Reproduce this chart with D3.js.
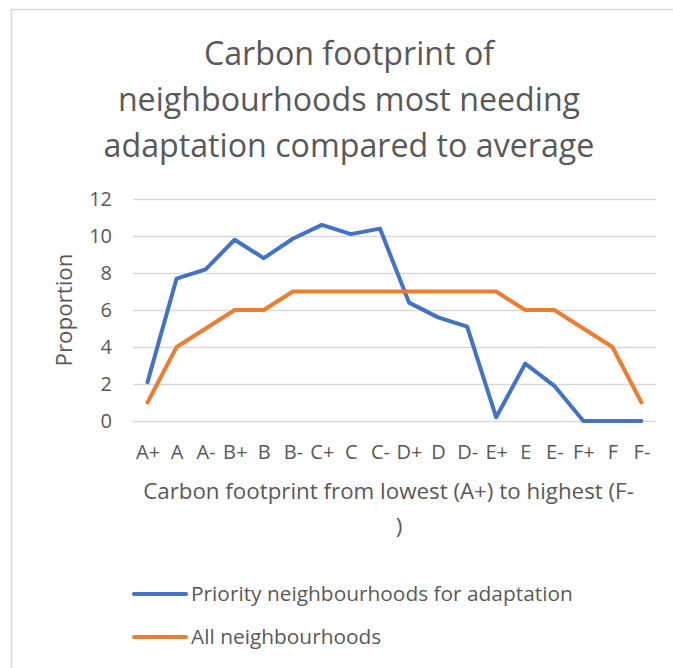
<!DOCTYPE html>
<html>
<head>
<meta charset="utf-8">
<title>Carbon footprint chart</title>
<script src="https://d3js.org/d3.v7.min.js"></script>
<style>
  body { margin: 0; background: #fff; }
  svg text { font-family: "Open Sans", "Noto Sans", sans-serif; fill: #595959; }
</style>
</head>
<body>
<div id="chart"></div>
<script>
const categories = ["A+", "A", "A-", "B+", "B", "B-", "C+", "C", "C-", "D+", "D", "D-", "E+", "E", "E-", "F+", "F", "F-"];
const priority = [2.1, 7.7, 8.2, 9.8, 8.8, 9.85, 10.6, 10.1, 10.4, 6.4, 5.6, 5.1, 0.2, 3.1, 1.9, 0, 0, 0];
const allNeighbourhoods = [1, 4, 5, 6, 6, 7, 7, 7, 7, 7, 7, 7, 7, 6, 6, 5, 4, 1];
const yTicks = [0, 2, 4, 6, 8, 10, 12];
const titleLines = ["Carbon footprint of", "neighbourhoods most needing", "adaptation compared to average"];
const seriesNames = ["Priority neighbourhoods for adaptation", "All neighbourhoods"];
const colors = ["#4472C4", "#ED7D31"];

const W = 673, H = 668;
const plot = { left: 133, right: 656, top: 199, bottom: 421 };

// scale a text's font size so it spans the wanted width
function fitWidth(sel, width) {
  const node = sel.node();
  const size = parseFloat(sel.style("font-size"));
  const len = node.getComputedTextLength();
  sel.style("font-size", (size * width / len).toFixed(2) + "px");
  return (size * width / len);
}

const svg = d3.select("#chart").append("svg")
  .attr("width", W).attr("height", H);

// chart area border (only top and left visible)
svg.append("rect")
  .attr("x", 11.5).attr("y", 9.5)
  .attr("width", W + 20).attr("height", H + 20)
  .attr("fill", "none").attr("stroke", "#d9d9d9").attr("stroke-width", 1.5);

// title
const title = svg.append("text")
  .attr("text-anchor", "middle")
  .style("font-size", "30px");
title.selectAll("tspan")
  .data(titleLines)
  .join("tspan")
  .attr("x", 349)
  .attr("y", (d, i) => [65, 111, 157][i])
  .text(d => d);
fitWidth(title.selectAll("tspan").filter((d, i) => i === 2), 491);
title.style("font-size", title.select("tspan:nth-child(3)").style("font-size"));
title.selectAll("tspan").style("font-size", null);

const x = d3.scalePoint().domain(categories)
  .range([plot.left, plot.right]).padding(0.5);
const y = d3.scaleLinear().domain([0, 12])
  .range([plot.bottom, plot.top]);

// gridlines + y labels
const yAxis = svg.append("g")
  .attr("transform", "translate(" + plot.left + ",0)")
  .call(d3.axisLeft(y).tickValues(yTicks)
    .tickSize(-(plot.right - plot.left)).tickPadding(21));
yAxis.select(".domain").remove();
yAxis.selectAll(".tick line").attr("stroke", "#d9d9d9").attr("stroke-width", 1.5);
yAxis.selectAll(".tick text").style("font-size", "20px").attr("fill", "#595959");

// x labels
const xAxis = svg.append("g")
  .attr("transform", "translate(0," + plot.bottom + ")")
  .call(d3.axisBottom(x).tickSize(0).tickPadding(24));
xAxis.select(".domain").remove();
xAxis.selectAll(".tick text").style("font-size", "20px").attr("fill", "#595959");

// axis titles
const yTitle = svg.append("text")
  .attr("transform", "translate(72,310) rotate(-90)")
  .attr("text-anchor", "middle")
  .style("font-size", "20px")
  .text("Proportion");
fitWidth(yTitle, 113);

const xTitle = svg.append("text")
  .attr("text-anchor", "middle")
  .style("font-size", "20px");
const xTitle1 = xTitle.append("tspan").attr("x", 388.5).attr("y", 499)
  .text("Carbon footprint from lowest (A+) to highest (F-");
xTitle.append("tspan").attr("x", 399).attr("y", 534).text(")");
const xs = fitWidth(xTitle1, 491);
xTitle.style("font-size", xs + "px");
xTitle1.style("font-size", null);

// lines
const line = d3.line()
  .x((d, i) => x(categories[i]))
  .y(d => y(d));

[priority, allNeighbourhoods].forEach((series, i) => {
  svg.append("path")
    .datum(series)
    .attr("d", line)
    .attr("fill", "none")
    .attr("stroke", colors[i])
    .attr("stroke-width", 4)
    .attr("stroke-linejoin", "round")
    .attr("stroke-linecap", "round");
});

// legend
const legend = svg.selectAll(".legend")
  .data(seriesNames)
  .join("g")
  .attr("class", "legend")
  .attr("transform", (d, i) => "translate(0," + (594 + i * 43) + ")");

legend.append("line")
  .attr("x1", 134).attr("x2", 186)
  .attr("stroke", (d, i) => colors[i])
  .attr("stroke-width", 4)
  .attr("stroke-linecap", "round");

const legendText = legend.append("text")
  .attr("x", 191).attr("dy", "0.35em")
  .style("font-size", "20px")
  .text(d => d);
const ls = fitWidth(legendText.filter((d, i) => i === 0), 382);
legendText.style("font-size", ls + "px");
</script>
</body>
</html>
